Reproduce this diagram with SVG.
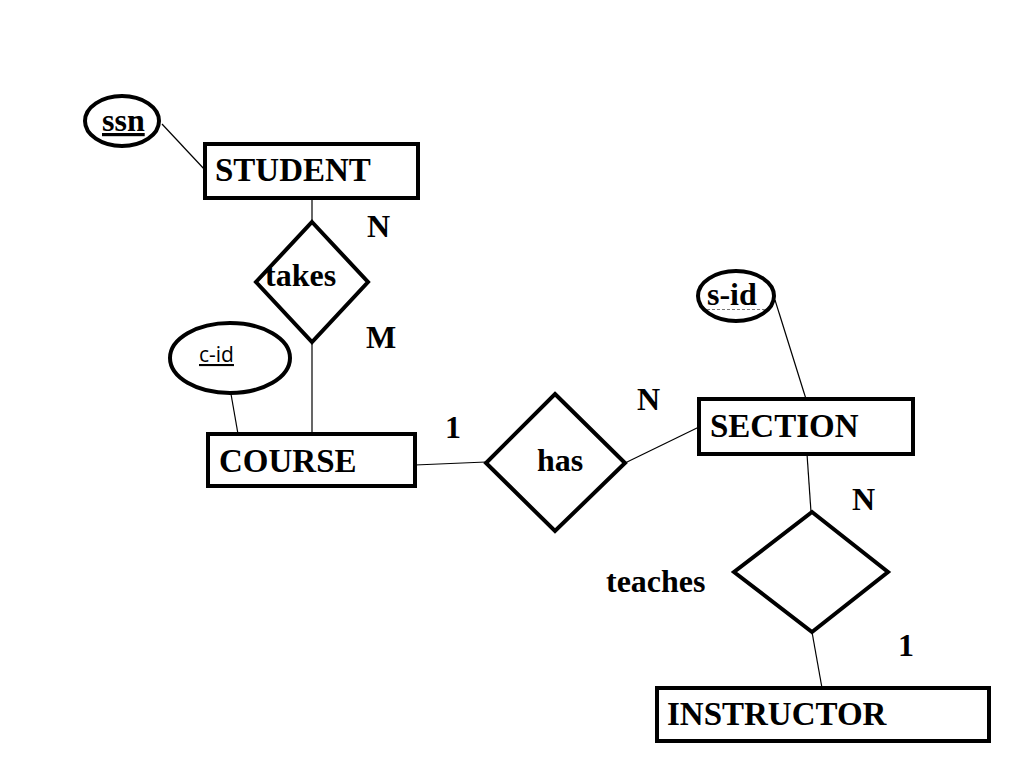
<svg xmlns="http://www.w3.org/2000/svg" width="1024" height="768" viewBox="0 0 1024 768">
<style>
.box{fill:#fff;stroke:#000;stroke-width:4}
.shape{fill:#fff;stroke:#000;stroke-width:4}
.conn{stroke:#000;stroke-width:1.2;fill:none}
.t{font-family:"Liberation Serif","Times New Roman",serif;font-weight:bold;font-size:33px;fill:#000}
.lbl{font-family:"Liberation Serif","Times New Roman",serif;font-weight:bold;font-size:32px;fill:#000}
.sans{font-family:"Open Sans","Liberation Sans",sans-serif;font-size:21px;fill:#000}
</style>
<rect width="1024" height="768" fill="#fff"/>
<g id="connectors">
<line class="conn" x1="162" y1="124" x2="205" y2="170"/>
<line class="conn" x1="312" y1="198" x2="312" y2="222"/>
<line class="conn" x1="312" y1="342" x2="312" y2="434"/>
<line class="conn" x1="231" y1="394" x2="238" y2="434"/>
<line class="conn" x1="415" y1="465" x2="486" y2="462"/>
<line class="conn" x1="625" y1="463" x2="699" y2="427"/>
<line class="conn" x1="775" y1="300" x2="806" y2="399"/>
<line class="conn" x1="807" y1="454" x2="811" y2="512"/>
<line class="conn" x1="812" y1="632" x2="822" y2="688"/>
</g>
<g id="ssn">
<ellipse class="shape" cx="122" cy="121" rx="37" ry="25"/>
<text class="lbl" x="102" y="131" text-decoration="underline">ssn</text>
</g>
<g id="student">
<rect class="box" x="205" y="144" width="213" height="54"/>
<text class="t" x="215" y="181">STUDENT</text>
</g>
<g id="takes">
<polygon class="shape" points="312,222 368,282 312,342 256,282"/>
<text class="lbl" x="265" y="286">takes</text>
</g>
<g id="cid">
<ellipse class="shape" cx="230" cy="358" rx="60" ry="35"/>
<text class="sans" x="199" y="362" text-decoration="underline">c-id</text>
</g>
<g id="course">
<rect class="box" x="208" y="434" width="207" height="52"/>
<text class="t" x="219" y="472">COURSE</text>
</g>
<g id="has">
<polygon class="shape" points="555,394 625,463 555,531 486,463"/>
<text class="lbl" x="560" y="471" text-anchor="middle">has</text>
</g>
<g id="sid">
<ellipse class="shape" cx="736" cy="296" rx="38" ry="25"/>
<text class="lbl" x="707" y="305">s-id</text>
<line x1="707" y1="309.5" x2="765" y2="309.5" stroke="#777" stroke-width="1" stroke-dasharray="3,2"/>
</g>
<g id="section">
<rect class="box" x="699" y="399" width="214" height="55"/>
<text class="t" x="710" y="437">SECTION</text>
</g>
<g id="teaches">
<polygon class="shape" points="812,512 888,572 812,632 734,572"/>
<text class="lbl" x="606" y="592">teaches</text>
</g>
<g id="instructor">
<rect class="box" x="657" y="688" width="332" height="53"/>
<text class="t" x="667" y="725">INSTRUCTOR</text>
</g>
<g id="cardinalities">
<text class="lbl" x="367" y="237">N</text>
<text class="lbl" x="366" y="348">M</text>
<text class="lbl" x="445" y="438">1</text>
<text class="lbl" x="637" y="410">N</text>
<text class="lbl" x="852" y="510">N</text>
<text class="lbl" x="898" y="656">1</text>
</g>
</svg>
